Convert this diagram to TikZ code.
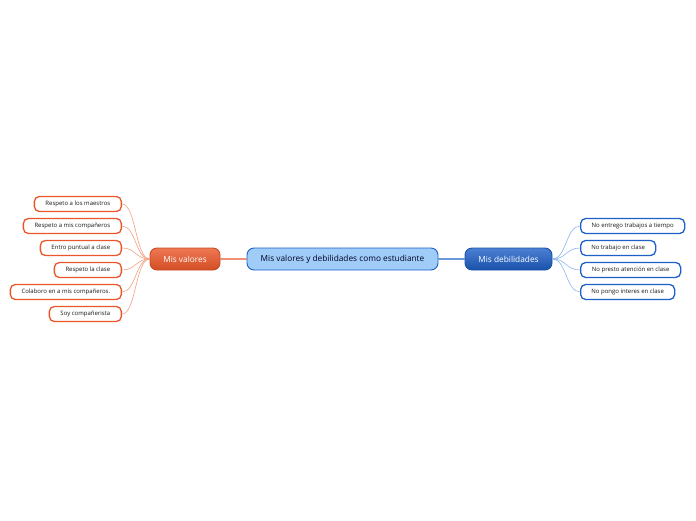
\documentclass[tikz,border=0pt]{standalone}
\usepackage{fontspec}
\setmainfont{Open Sans}
\usepackage{tikz}
\usetikzlibrary{positioning}
\definecolor{vlc}{RGB}{234,86,40}
\definecolor{vll}{RGB}{242,160,128}
\definecolor{dbc}{RGB}{30,96,200}
\definecolor{dbl}{RGB}{140,180,236}
\definecolor{cnf}{RGB}{160,204,248}
\begin{document}
\begin{tikzpicture}[x=1pt,y=-1pt,line join=round,
  topic/.style={rounded corners=7pt,line width=0.9pt,minimum height=22pt,inner sep=0pt,font=\fontsize{8.3}{9}\selectfont},
  leafv/.style={draw=vlc,fill=white,rounded corners=5pt,line width=1.3pt,minimum height=15pt,inner sep=0pt,anchor=east,text=black!90,font=\fontsize{6}{7}\selectfont},
  leafd/.style={leafv,draw=dbc,anchor=west},
  linkv/.style={draw=vll,line width=0.6pt},
  linkd/.style={draw=dbl,line width=0.6pt}]
  \useasboundingbox (0,0) rectangle (696,520);
  \node[topic,draw=vlc!85!black,top color=vlc!80!white,bottom color=vlc!90!black,text=white,minimum width=70pt] (mv) at (185,259) {Mis valores};
  \node[topic,draw=dbc!85!black,top color=dbc!80!white,bottom color=dbc!85!black,text=white,minimum width=87pt] (md) at (508.5,259) {Mis debilidades};
  \node[topic,draw=dbc,fill=cnf,text=black!85!blue,minimum width=191pt] (cen) at (342.5,259) {Mis valores y debilidades como estudiante};
  % left side
  \node[leafv,minimum width=87pt] (v1) at (122,204) {Respeto a los maestros};
  \node[leafv,minimum width=98pt] (v2) at (122,226) {Respeto a mis compañeros};
  \node[leafv,minimum width=81pt] (v3) at (122,248) {Entro puntual a clase};
  \node[leafv,minimum width=67pt] (v4) at (122,270) {Respeto la clase};
  \node[leafv,minimum width=111pt] (v5) at (122,292) {Colaboro en a mis compañeros.};
  \node[leafv,minimum width=72pt] (v6) at (122,314) {Soy compañerista};
  \foreach \k in {v1,v2,v3,v4,v5,v6}
    \draw[linkv] (mv.west) .. controls +(-14,0) and +(14,0) .. (\k.east);
  % right side
  \node[leafd,minimum width=104pt] (d1) at (580,226) {No entrego trabajos a tiempo};
  \node[leafd,minimum width=75pt] (d2) at (580,248) {No trabajo en clase};
  \node[leafd,minimum width=100pt] (d3) at (580,270) {No presto atención en clase};
  \node[leafd,minimum width=94pt] (d4) at (580,292) {No pongo interes en clase};
  \foreach \k in {d1,d2,d3,d4}
    \draw[linkd] (md.east) .. controls +(14,0) and +(-14,0) .. (\k.west);
  \draw[vlc,line width=1.1pt] (mv.east) -- ([yshift=0.01pt]cen.west);
  \draw[dbc,line width=1.1pt] (cen.east) -- ([yshift=0.01pt]md.west);
\end{tikzpicture}
\end{document}
